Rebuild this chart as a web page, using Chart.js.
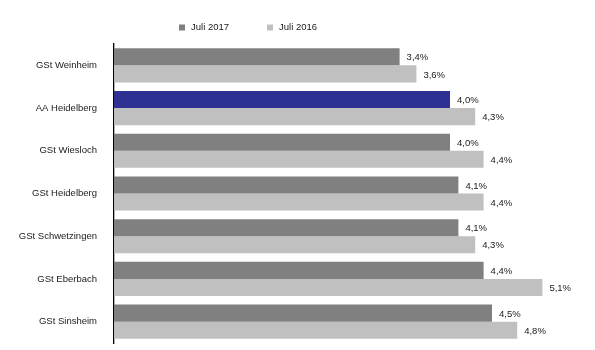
<!DOCTYPE html>
<html>
<head>
<meta charset="utf-8">
<script src="https://cdn.jsdelivr.net/npm/chart.js@4"></script>
<style>
    html, body { margin:0; padding:0; background:#ffffff; }
    #box { width:595px; height:350px; }
</style>
</head>
<body>
<div id="box"><canvas id="grafico"></canvas></div>
<script>

// ==========================
// DATEN
// ==========================
const kategorien = [
    "GSt Weinheim",
    "AA Heidelberg",
    "GSt Wiesloch",
    "GSt Heidelberg",
    "GSt Schwetzingen",
    "GSt Eberbach",
    "GSt Sinsheim"
];

const serien = ["Juli 2017", "Juli 2016"];

const werte2017 = [3.4, 4.0, 4.0, 4.1, 4.1, 4.4, 4.5];

const werte2016 = [3.6, 4.3, 4.4, 4.4, 4.3, 5.1, 4.8];

const fonte = "Liberation Sans, Arial, sans-serif";

// AA Heidelberg in blau
const farben2017 = kategorien.map(k =>
    k === "AA Heidelberg" ? "#2f3192" : "#808080"
);

// ==========================
// WERTE AN DEN BALKEN
// ==========================
const balkenWerte = {
    id:"balkenWerte",
    afterDatasetsDraw(chart){
        const ctx = chart.ctx;
        ctx.save();
        ctx.font = "9.5px " + fonte;
        ctx.fillStyle = "#1a1a1a";
        ctx.textAlign = "left";
        ctx.textBaseline = "middle";
        chart.data.datasets.forEach((ds, i) => {
            chart.getDatasetMeta(i).data.forEach((bar, j) => {
                const txt = ds.data[j].toFixed(1).replace(".", ",") + "%";
                ctx.fillText(txt, bar.x + 7, bar.y + 1);
            });
        });
        ctx.restore();
    }
};

// ==========================
// LEGENDE
// ==========================
const legende = {
    id:"legende",
    afterDraw(chart){
        const ctx = chart.ctx;
        ctx.save();
        ctx.font = "9.5px " + fonte;
        ctx.textBaseline = "middle";
        ctx.textAlign = "left";
        let x = 179;
        const y = 27.5;
        chart.data.datasets.forEach(ds => {
            ctx.fillStyle = ds.legendFarbe;
            ctx.fillRect(x, y - 3, 6, 6);
            ctx.fillStyle = "#1a1a1a";
            ctx.fillText(ds.label, x + 12, y);
            x += 12 + ctx.measureText(ds.label).width + 38;
        });
        ctx.restore();
    }
};

// ==========================
// GRAFIK
// ==========================
new Chart(document.getElementById("grafico"), {
    type:"bar",
    data:{
        labels:kategorien,
        datasets:[
            {
                label:serien[0],
                data:werte2017,
                backgroundColor:farben2017,
                legendFarbe:"#808080"
            },
            {
                label:serien[1],
                data:werte2016,
                backgroundColor:"#c0c0c0",
                legendFarbe:"#c0c0c0"
            }
        ]
    },
    options:{
        indexAxis:"y",
        responsive:true,
        maintainAspectRatio:false,
        animation:false,
        datasets:{
            bar:{
                categoryPercentage:0.8,
                barPercentage:1
            }
        },
        layout:{
            padding:{ top:44, right:19, bottom:7, left:0 }
        },
        plugins:{
            legend:{ display:false },
            tooltip:{ enabled:false }
        },
        scales:{
            x:{
                display:false,
                min:0,
                max:5.5
            },
            y:{
                afterFit(scale){
                    scale.width = 114;
                    // kein Extra-Rand oben/unten durch die Beschriftung
                    scale.paddingTop = 0;
                    scale.paddingBottom = 0;
                },
                grid:{ display:false, drawTicks:false },
                border:{ display:true, color:"#000000", width:1.3 },
                ticks:{
                    color:"#1a1a1a",
                    padding:17,
                    font:{ family:fonte, size:9.5 }
                }
            }
        }
    },
    plugins:[balkenWerte, legende]
});

</script>
</body>
</html>
